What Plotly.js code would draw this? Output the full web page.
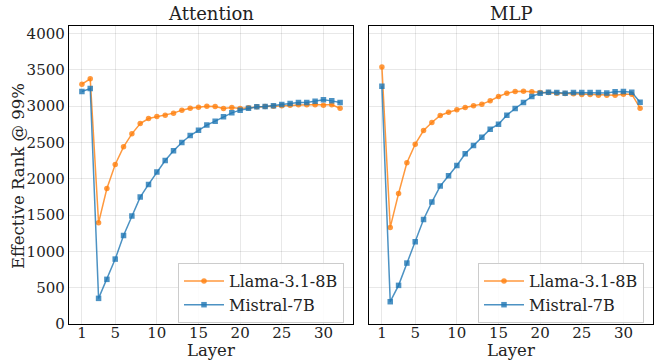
<!DOCTYPE html>
<html><head><meta charset="utf-8">
<script src="https://cdn.plot.ly/plotly-3.0.1.min.js"></script>
<style>body{margin:0;padding:0;background:#fff}#chart{width:654px;height:360px}</style>
</head><body><div id="chart"></div>
<script>
const layers = Array.from({length: 32}, (_, i) => i + 1);
const xTicks = [1, 5, 10, 15, 20, 25, 30];
const yTicks = [0, 500, 1000, 1500, 2000, 2500, 3000, 3500, 4000];
const attnLlama = [3303, 3376, 1394, 1865, 2197, 2440, 2619, 2761, 2830, 2858, 2876, 2904, 2945, 2972, 2986, 3000, 2995, 2968, 2982, 2968, 2977, 2991, 2995, 3000, 3005, 3014, 3018, 3018, 3018, 3014, 3018, 2972];
const attnMistral = [3202, 3243, 353, 615, 894, 1220, 1486, 1748, 1922, 2092, 2252, 2385, 2500, 2596, 2670, 2739, 2794, 2853, 2908, 2945, 2972, 2991, 2995, 3005, 3023, 3037, 3050, 3050, 3069, 3087, 3073, 3050];
const mlpLlama = [3541, 1330, 1798, 2220, 2477, 2665, 2775, 2872, 2917, 2950, 2982, 3005, 3028, 3073, 3133, 3179, 3202, 3206, 3197, 3188, 3188, 3179, 3174, 3170, 3161, 3161, 3151, 3151, 3151, 3165, 3165, 2972];
const mlpMistral = [3275, 307, 532, 839, 1133, 1440, 1679, 1899, 2041, 2183, 2344, 2459, 2573, 2683, 2752, 2876, 2968, 3050, 3133, 3179, 3193, 3188, 3179, 3188, 3188, 3188, 3188, 3183, 3197, 3202, 3193, 3055];
const seriesNames = ['Llama-3.1-8B', 'Mistral-7B'];
const panelTitles = ['Attention', 'MLP'];
const xTitle = 'Layer';
const yTitle = 'Effective Rank @ 99%';

const FONT = '"DejaVu Serif", serif';
const ORANGE = 'rgba(255,127,14,0.8)';
const BLUE = 'rgba(31,119,180,0.8)';

function tr(y, name, color, sym, xa, ya, leg) {
  return {x: layers, y: y, name: name, type: 'scatter', mode: 'lines+markers',
    xaxis: xa, yaxis: ya, legend: leg,
    line: {color: color, width: 1.5},
    marker: {color: color, symbol: sym, size: 5.5}};
}
const data = [
  tr(attnLlama, seriesNames[0], ORANGE, 'circle', 'x', 'y', 'legend'),
  tr(attnMistral, seriesNames[1], BLUE, 'square', 'x', 'y', 'legend'),
  tr(mlpLlama, seriesNames[0], ORANGE, 'circle', 'x2', 'y2', 'legend2'),
  tr(mlpMistral, seriesNames[1], BLUE, 'square', 'x2', 'y2', 'legend2')
];
const W = 654, H = 360;
const ax = {
  range: [-0.55, 33.55], tickvals: xTicks, ticks: '', ticklen: 0, ticklabelstandoff: -5,
  showline: true, mirror: true, linecolor: '#000', linewidth: 1.2,
  showgrid: true, gridcolor: 'rgba(0,0,0,0.09)', gridwidth: 1, zeroline: false,
  tickfont: {family: FONT, size: 15, color: '#222'}
};
const ay = {
  range: [0, 4100], tickvals: yTicks, ticks: '', ticklen: 0,
  showline: true, mirror: true, linecolor: '#000', linewidth: 1.2,
  showgrid: true, gridcolor: 'rgba(0,0,0,0.09)', gridwidth: 1, zeroline: false,
  tickfont: {family: FONT, size: 15, color: '#222'},
  domain: [1 - 324 / H, 1 - 26.3 / H]
};
const legBase = {
  bgcolor: 'rgba(255,255,255,0.85)', bordercolor: '#cccccc', borderwidth: 1,
  font: {family: FONT, size: 16, color: '#222'}, xanchor: 'left', yanchor: 'top',
  tracegroupgap: 0, itemwidth: 40
};
function ann(text, x, y, size, angle) {
  return {text: text, x: x / W, y: 1 - y / H, xref: 'paper', yref: 'paper', showarrow: false,
    xanchor: 'center', yanchor: 'middle', textangle: angle || 0,
    font: {family: FONT, size: size, color: '#222'}};
}
const layout = {
  width: W, height: H, margin: {l: 0, r: 0, t: 0, b: 0},
  paper_bgcolor: '#fff', plot_bgcolor: '#fff', showlegend: true,
  font: {family: FONT},
  xaxis: Object.assign({}, ax, {domain: [69 / W, 353 / W], anchor: 'y'}),
  yaxis: Object.assign({}, ay, {anchor: 'x'}),
  xaxis2: Object.assign({}, ax, {domain: [369 / W, 653 / W], anchor: 'y2'}),
  yaxis2: Object.assign({}, ay, {anchor: 'x2', showticklabels: false}),
  legend: Object.assign({}, legBase, {x: 178 / W, y: 1 - 263 / H}),
  legend2: Object.assign({}, legBase, {x: 478 / W, y: 1 - 263 / H}),
  annotations: [
    ann(panelTitles[0], 211, 14, 18),
    ann(panelTitles[1], 511, 14, 18),
    ann(xTitle, 211, 350, 16.5),
    ann(xTitle, 511, 350, 16.5),
    ann(yTitle, 18, 176, 16.5, -90)
  ]
};
Plotly.newPlot('chart', data, layout, {displayModeBar: false, staticPlot: true});
</script></body></html>
